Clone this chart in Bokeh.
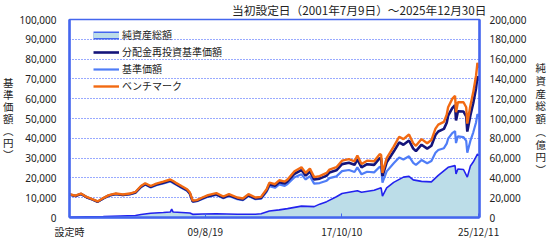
import pandas as pd
from bokeh.plotting import figure
from bokeh.models import Range1d, LinearAxis, FixedTicker, NumeralTickFormatter, Legend, LegendItem
from bokeh.embed import file_html
from bokeh.resources import INLINE

start_date = "2001-07-09"
end_date = "2025-12-30"

price_dates = [
    "2001-07-09", "2001-11-15", "2002-03-15", "2002-07-15", "2002-11-15", "2003-03-15",
    "2003-07-15", "2003-11-15", "2004-04-15", "2004-09-15", "2005-02-15", "2005-06-15",
    "2005-10-15", "2006-01-15", "2006-05-15", "2006-09-15", "2007-02-15", "2007-07-15",
    "2007-09-15", "2007-11-15", "2008-03-15", "2008-07-15", "2008-09-15", "2008-11-15",
    "2009-02-15", "2009-06-15", "2009-10-15", "2010-04-15", "2010-09-15", "2011-01-15",
    "2011-07-15", "2011-11-15", "2012-03-15", "2012-08-15", "2012-12-15", "2013-04-15",
    "2013-06-15", "2013-10-15", "2014-01-15", "2014-05-15", "2014-07-15", "2014-12-15",
    "2015-05-15", "2015-08-15", "2015-11-15", "2016-02-15", "2016-06-15", "2016-11-15",
    "2017-01-15", "2017-06-15", "2017-10-15", "2018-03-15", "2018-07-15", "2018-09-15",
    "2018-12-15", "2019-04-15", "2019-09-15", "2020-01-15", "2020-02-15", "2020-03-15",
    "2020-06-15", "2020-11-15", "2021-03-15", "2021-06-15", "2021-10-15", "2022-01-15",
    "2022-03-15", "2022-07-15", "2022-11-15", "2023-02-15", "2023-05-15", "2023-07-15",
    "2023-11-15", "2024-01-15", "2024-02-15", "2024-05-15", "2024-07-15", "2024-08-05",
    "2024-09-15", "2025-01-15", "2025-03-15", "2025-04-08", "2025-06-15", "2025-08-15",
    "2025-10-15", "2025-11-15", "2025-12-30",
]

benchmark = [
    11800, 11000, 12100, 10400, 9300, 8100, 9800, 11300, 12100, 11600, 12100, 12900,
    15900, 17300, 15900, 17100, 18100, 19200, 18400, 17500, 15900, 14300, 12600, 8500,
    8800, 10100, 11300, 12300, 10600, 11800, 10100, 9600, 11800, 10100, 10400, 14300,
    17600, 16800, 18800, 18100, 19200, 23400, 25400, 22500, 24700, 20400, 20900, 22500,
    24200, 25400, 28700, 29500, 28400, 31300, 27000, 28700, 28400, 32000, 31700, 22500,
    30000, 35800, 40800, 39600, 41900, 37500, 36200, 39600, 37500, 39100, 44900, 46900,
    48300, 51900, 55700, 59900, 61500, 53200, 58200, 58200, 55700, 47400, 56600, 63200,
    71500, 78100, 75600,
]

nav_reinvested = [
    11650, 10850, 11950, 10250, 9150, 7950, 9650, 11100, 11850, 11350, 11850, 12600,
    15550, 16900, 15500, 16650, 17600, 18650, 17850, 17000, 15400, 13800, 12150, 8150,
    8450, 9700, 10800, 11750, 10100, 11250, 9650, 9150, 11250, 9600, 9900, 13600,
    16800, 16000, 17850, 17150, 18200, 22100, 23950, 21150, 23250, 19200, 19650, 21150,
    22750, 23850, 26950, 27650, 26600, 29350, 25300, 26900, 26600, 29950, 29650, 20950,
    27900, 33300, 37900, 36750, 38900, 34800, 33550, 36750, 34800, 36250, 41650, 43450,
    44750, 47900, 51400, 55200, 56700, 49000, 53600, 53500, 51100, 43400, 51700, 57700,
    65200, 71300, 69200,
]

nav = [
    11600, 10750, 11800, 10150, 9050, 7900, 9550, 11000, 11750, 11250, 11700, 12450,
    15300, 16600, 15200, 16300, 17250, 18250, 17450, 16600, 15000, 13450, 11850, 7950,
    8200, 9350, 10450, 11350, 9750, 10850, 9280, 8800, 10800, 9250, 9500, 12950,
    15800, 15000, 16700, 16000, 16900, 20300, 21800, 19200, 20900, 17100, 17400, 18600,
    19900, 20800, 23400, 24000, 23000, 25300, 21800, 23100, 22800, 25600, 25300, 17600,
    23300, 27400, 30300, 29300, 30900, 27600, 26600, 29000, 27400, 28500, 32700, 34100,
    35000, 37300, 39800, 42600, 43600, 37600, 41000, 40600, 38700, 32700, 38800, 42900,
    48000, 52200, 50800,
]

net_dates = [
    "2001-07-09", "2002-07-15", "2003-07-15", "2004-07-15", "2005-06-15", "2005-10-15",
    "2006-05-15", "2007-02-15", "2007-07-15", "2007-08-15", "2007-09-15", "2008-03-15",
    "2008-09-15", "2008-11-15", "2009-06-15", "2010-04-15", "2011-07-15", "2012-08-15",
    "2012-12-15", "2013-06-15", "2014-01-15", "2014-07-15", "2015-05-15", "2016-02-15",
    "2016-06-15", "2016-11-15", "2017-06-15", "2017-10-15", "2018-03-15", "2018-09-15",
    "2018-12-15", "2019-09-15", "2020-02-15", "2020-03-15", "2020-06-15", "2020-11-15",
    "2021-06-15", "2021-10-15", "2022-01-15", "2022-07-15", "2023-02-15", "2023-07-15",
    "2024-02-15", "2024-07-15", "2024-08-05", "2024-09-15", "2025-01-15", "2025-04-08",
    "2025-06-15", "2025-08-15", "2025-11-15", "2025-12-30",
]

net_assets = [
    300, 800, 1000, 1500, 2000, 3000, 4300, 5000, 5500, 8500, 5500, 5000,
    4500, 3200, 3500, 3800, 3300, 3300, 3800, 6500, 7700, 9000, 11500, 11000,
    13500, 16000, 21000, 24200, 25500, 27000, 25500, 27500, 30000, 21500, 30000, 35500,
    40800, 41500, 38000, 36500, 36000, 42500, 50700, 52400, 44000, 49000, 48500, 40800,
    52000, 56000, 64000, 62400,
]

tick_dates = ["2001-07-09", "2009-08-19", "2017-10-10", "2025-12-11"]
tick_labels = ["設定時", "09/8/19", "17/10/10", "25/12/11"]

title_text = "当初設定日（2001年7月9日）～2025年12月30日"
left_title = "基\n準\n価\n額\n︵\n円\n︶"
right_title = "純\n資\n産\n総\n額\n︵\n億\n円\n︶"

t0 = pd.Timestamp(start_date)


def to_days(ds):
    return [int((pd.Timestamp(d) - t0).days) for d in ds]


px = to_days(price_dates)
nx = to_days(net_dates)
tx = to_days(tick_dates)
x_end = to_days([end_date])[0]

JP = "Noto Sans CJK JP"
NUM = "Noto Sans"
TXT = "#222222"
FRAME = "#4466ee"

p = figure(width=548, height=242, output_backend="svg", toolbar_location=None,
           x_range=Range1d(0, x_end), y_range=Range1d(0, 100000),
           min_border_left=69, min_border_right=67, min_border_top=16, min_border_bottom=25,
           background_fill_color="white", border_fill_color="white")
p.extra_y_ranges = {"net": Range1d(0, 200000)}

p.outline_line_color = FRAME
p.outline_line_width = 1.5
p.outline_line_alpha = 1

p.title.text = title_text
p.title.align = "right"
p.title.vertical_align = "top"
p.title.text_font = JP
p.title.text_font_size = "11.7px"
p.title.text_font_style = "normal"
p.title.text_color = TXT
p.title.standoff = 0
p.title.offset = -7

# grid
p.xgrid.visible = False
p.ygrid.ticker = FixedTicker(ticks=list(range(0, 100001, 10000)))
p.ygrid.grid_line_color = "#3355ff"
p.ygrid.grid_line_dash = "1 2"
p.ygrid.grid_line_width = 1

# left axis
ya = p.yaxis[0]
ya.ticker = FixedTicker(ticks=list(range(0, 100001, 10000)))
ya.formatter = NumeralTickFormatter(format="0,0")
ya.major_tick_out = 0
ya.major_tick_in = 0
ya.minor_tick_out = 0
ya.minor_tick_in = 0
ya.axis_line_color = FRAME
ya.axis_line_width = 2.5
ya.major_label_standoff = 13
ya.major_label_text_font = NUM
ya.major_label_text_font_size = "10px"
ya.major_label_text_color = TXT
ya.axis_label = left_title
ya.axis_label_orientation = "horizontal"
ya.axis_label_text_font = JP
ya.axis_label_text_font_size = "10.5px"
ya.axis_label_text_font_style = "normal"
ya.axis_label_text_color = TXT
ya.axis_label_text_line_height = 0.8
ya.axis_label_standoff = 3

# right axis
ra = LinearAxis(y_range_name="net")
ra.ticker = FixedTicker(ticks=list(range(0, 200001, 20000)))
ra.formatter = NumeralTickFormatter(format="0,0")
ra.major_tick_out = 0
ra.major_tick_in = 0
ra.minor_tick_out = 0
ra.minor_tick_in = 0
ra.axis_line_color = FRAME
ra.axis_line_width = 2.5
ra.major_label_standoff = 10
ra.major_label_text_font = NUM
ra.major_label_text_font_size = "10px"
ra.major_label_text_color = TXT
ra.axis_label = right_title
ra.axis_label_orientation = "horizontal"
ra.axis_label_text_font = JP
ra.axis_label_text_font_size = "10.5px"
ra.axis_label_text_font_style = "normal"
ra.axis_label_text_color = TXT
ra.axis_label_text_line_height = 0.85
ra.axis_label_standoff = 6
p.add_layout(ra, "right")

# bottom axis
xa = p.xaxis[0]
xa.ticker = FixedTicker(ticks=tx)
xa.major_label_overrides = {t: l for t, l in zip(tx, tick_labels)}
xa.major_tick_out = 0
xa.major_tick_in = 4
xa.major_tick_line_color = FRAME
xa.minor_tick_out = 0
xa.minor_tick_in = 0
xa.axis_line_color = FRAME
xa.axis_line_width = 2.5
xa.major_label_standoff = 6
xa.major_label_text_font = JP
xa.major_label_text_font_size = "10px"
xa.major_label_text_color = TXT

# series
p.varea(x=nx, y1=[0] * len(nx), y2=net_assets, y_range_name="net", fill_color="#bcdde8")
p.line(x=nx, y=net_assets, y_range_name="net", line_color="#2222ee", line_width=1.6)
r_nav = p.line(x=px, y=nav, line_color="#4f7df7", line_width=2.2)
r_re = p.line(x=px, y=nav_reinvested, line_color="#14147a", line_width=2.6)
r_bm = p.line(x=px, y=benchmark, line_color="#f26a12", line_width=2.4)

# legend swatch for net assets (bordered bar), drawn outside the visible x range
sw1 = p.line(x=[-3000, -2900], y=[-5000, -5000], line_color="#4466ee", line_width=8)
sw2 = p.line(x=[-3000, -2900], y=[-5000, -5000], line_color="#bcdde8", line_width=5)

legend = Legend(items=[
    LegendItem(label="純資産総額", renderers=[sw1, sw2]),
    LegendItem(label="分配金再投資基準価額", renderers=[r_re]),
    LegendItem(label="基準価額", renderers=[r_nav]),
    LegendItem(label="ベンチマーク", renderers=[r_bm]),
])
legend.location = (24, 124)
legend.padding = 0
legend.margin = 0
legend.spacing = 2
legend.glyph_width = 26
legend.glyph_height = 14
legend.label_height = 14
legend.label_standoff = 3
legend.label_text_font = JP
legend.label_text_font_size = "10px"
legend.label_text_color = TXT
legend.border_line_color = None
legend.background_fill_alpha = 0
p.add_layout(legend, "center")

open("out.html", "w").write(file_html(p, INLINE))
